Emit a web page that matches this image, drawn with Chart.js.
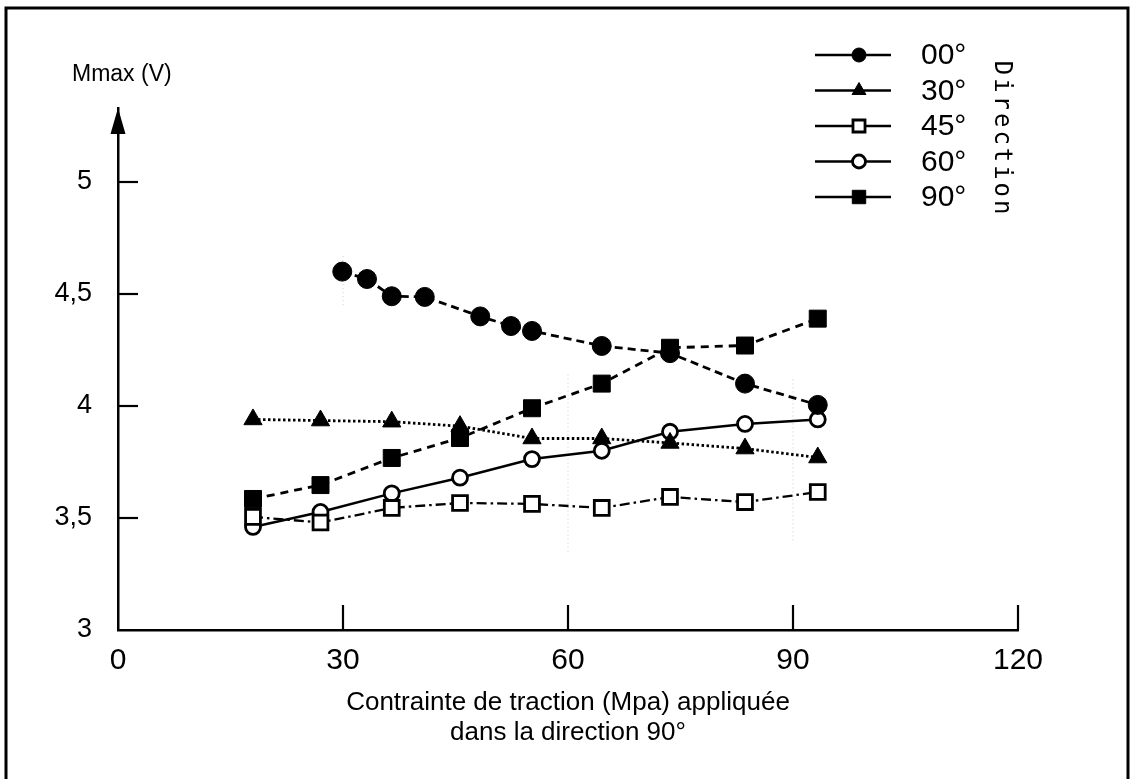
<!DOCTYPE html>
<html>
<head>
<meta charset="utf-8">
<script src="https://cdn.jsdelivr.net/npm/chart.js@4"></script>
<style>
  html, body { margin: 0; padding: 0; background: #fff; }
  #wrap { width: 1133px; height: 779px; }
</style>
</head>
<body>
<div id="wrap"><canvas id="myChart" width="1133" height="779"></canvas></div>
<script>
// values
const seriesLabels = ['00°', '30°', '45°', '60°', '90°'];
const xStress = [18, 27, 36.5, 45.6, 55.2, 64.5, 73.6, 83.6, 93.3];
const xStress00 = [29.9, 33.2, 36.5, 40.9, 48.3, 52.4, 55.2, 64.5, 73.6, 83.6, 93.3];
const m00 = [4.60, 4.567, 4.49, 4.487, 4.40, 4.357, 4.335, 4.268, 4.236, 4.10, 4.005];
const m30 = [3.94, 3.935, 3.93, 3.91, 3.855, 3.855, 3.835, 3.81, 3.77];
const m45 = [3.505, 3.48, 3.545, 3.567, 3.563, 3.545, 3.594, 3.571, 3.616];
const m60 = [3.46, 3.527, 3.61, 3.68, 3.763, 3.80, 3.885, 3.92, 3.94];
const m90 = [3.585, 3.647, 3.768, 3.857, 3.99, 4.10, 4.26, 4.27, 4.39];
const xTicks = [0, 30, 60, 90, 120];
const yTicks = [3, 3.5, 4, 4.5, 5];
const yTickLabels = ['3', '3,5', '4', '4,5', '5'];

const FONT = '"Liberation Sans", Arial, Helvetica, sans-serif';

const pts = (xs, ys) => ys.map((y, i) => ({x: xs[i], y: y}));

const data = {
  datasets: [
    {
      label: seriesLabels[0],
      data: pts(xStress00, m00),
      borderDash: [8, 5],
      borderWidth: 2.8,
      pointStyle: 'circle',
      pointRadius: 9.5,
      pointBackgroundColor: '#000',
      legendRadius: 7
    },
    {
      label: seriesLabels[1],
      data: pts(xStress, m30),
      borderDash: [2.5, 2.5],
      borderWidth: 2.8,
      pointStyle: 'triangle',
      pointRadius: 10.5,
      pointBackgroundColor: '#000',
      legendRadius: 8
    },
    {
      label: seriesLabels[2],
      data: pts(xStress, m45),
      borderDash: [10, 4, 2.5, 4],
      borderWidth: 2.3,
      pointStyle: 'rect',
      pointRadius: 10.5,
      pointBorderWidth: 2.8,
      pointBackgroundColor: '#fff',
      legendRadius: 8.5
    },
    {
      label: seriesLabels[3],
      data: pts(xStress, m60),
      borderDash: [],
      borderWidth: 2.5,
      pointStyle: 'circle',
      pointRadius: 7.5,
      pointBorderWidth: 2.8,
      pointBackgroundColor: '#fff',
      legendRadius: 6.5
    },
    {
      label: seriesLabels[4],
      data: pts(xStress, m90),
      borderDash: [8, 6],
      borderWidth: 2.8,
      pointStyle: 'rect',
      pointRadius: 12,
      pointBackgroundColor: '#000',
      legendRadius: 9.5
    }
  ]
};
data.datasets.forEach(d => {
  d.borderColor = '#000';
  d.pointBorderColor = '#000';
  d.showLine = true;
  d.fill = false;
  d.tension = 0;
  if (d.pointBorderWidth === undefined) d.pointBorderWidth = 1;
});

// frame, arrow, inward ticks, legend and labels
const decor = {
  id: 'decor',
  beforeDatasetsDraw: (chart) => {
    const ctx = chart.ctx;
    const xs = chart.scales.x, ys = chart.scales.y;
    const x0 = xs.getPixelForValue(0), y0 = ys.getPixelForValue(3);
    ctx.save();
    // faint scan dots
    ctx.strokeStyle = '#c8c8c8';
    ctx.lineWidth = 1;
    ctx.setLineDash([1, 3]);
    [[30, 4.45, 4.68], [60, 3.35, 4.15], [90, 3.4, 4.12]].forEach(g => {
      const gx = xs.getPixelForValue(g[0]);
      ctx.beginPath();
      ctx.moveTo(gx, ys.getPixelForValue(g[1]));
      ctx.lineTo(gx, ys.getPixelForValue(g[2]));
      ctx.stroke();
    });
    ctx.setLineDash([]);
    // ticks
    ctx.strokeStyle = '#000';
    ctx.lineWidth = 2.2;
    xTicks.slice(1).forEach(v => {
      const px = xs.getPixelForValue(v);
      ctx.beginPath();
      ctx.moveTo(px, y0);
      ctx.lineTo(px, y0 - 25);
      ctx.stroke();
    });
    yTicks.slice(1).forEach(v => {
      const py = ys.getPixelForValue(v);
      ctx.beginPath();
      ctx.moveTo(x0, py);
      ctx.lineTo(x0 + 20, py);
      ctx.stroke();
    });
    // arrow head
    const top = chart.chartArea.top;
    ctx.fillStyle = '#000';
    ctx.beginPath();
    ctx.moveTo(x0, top);
    ctx.lineTo(x0 - 7.5, top + 26);
    ctx.lineTo(x0 + 7.5, top + 26);
    ctx.closePath();
    ctx.fill();
    ctx.restore();
  },
  afterDraw: (chart) => {
    const ctx = chart.ctx;
    ctx.save();
    // frame
    ctx.strokeStyle = '#000';
    ctx.lineWidth = 3;
    ctx.beginPath();
    ctx.moveTo(6, 779);
    ctx.lineTo(6, 8);
    ctx.lineTo(1128, 8);
    ctx.lineTo(1128, 779);
    ctx.stroke();
    // y title
    ctx.fillStyle = '#000';
    ctx.font = '23px ' + FONT;
    ctx.textAlign = 'left';
    ctx.textBaseline = 'middle';
    ctx.fillText('Mmax (V)', 72, 75);
    // legend
    const rowY = 55, rowStep = 35.5;
    chart.data.datasets.forEach((d, i) => {
      const y = rowY + i * rowStep;
      ctx.strokeStyle = '#000';
      ctx.lineWidth = 2.5;
      ctx.beginPath();
      ctx.moveTo(815, y);
      ctx.lineTo(891, y);
      ctx.stroke();
      ctx.fillStyle = d.pointBackgroundColor;
      ctx.lineWidth = d.pointBorderWidth;
      Chart.helpers.drawPoint(ctx, {pointStyle: d.pointStyle, radius: d.legendRadius, rotation: 0, borderWidth: d.pointBorderWidth}, 859, y);
      ctx.fillStyle = '#000';
      ctx.font = '30px ' + FONT;
      ctx.textAlign = 'left';
      ctx.textBaseline = 'middle';
      ctx.fillText(d.label, 921, y + 1);
    });
    // vertical "Direction"
    const word = 'Direction';
    ctx.font = '24px "DejaVu Sans Mono", monospace';
    ctx.textAlign = 'center';
    ctx.textBaseline = 'middle';
    for (let i = 0; i < word.length; i++) {
      ctx.save();
      ctx.translate(1001, 68 + i * 17.4);
      ctx.rotate(Math.PI / 2);
      ctx.fillText(word[i], 0, 0);
      ctx.restore();
    }
    ctx.restore();
  }
};

const config = {
  type: 'scatter',
  data: data,
  options: {
    responsive: false,
    animation: false,
    layout: { padding: { top: 108, right: 115, left: 0, bottom: 0 } },
    plugins: {
      legend: { display: false },
      tooltip: { enabled: false }
    },
    scales: {
      x: {
        type: 'linear',
        min: 0,
        max: 120,
        afterBuildTicks: (scale) => { scale.ticks = xTicks.map(v => ({value: v})); },
        afterFit: (scale) => { scale.height = 149; },
        grid: { display: false, drawTicks: false },
        border: { display: true, color: '#000', width: 2.5 },
        ticks: {
          padding: 13,
          color: '#000',
          font: { family: FONT, size: 30 },
          maxRotation: 0
        },
        title: {
          display: true,
          text: ['Contrainte de traction (Mpa) appliquée', 'dans la direction 90°'],
          color: '#000',
          font: { family: FONT, size: 26, lineHeight: 30 / 26 },
          padding: { top: 0, bottom: 31 }
        }
      },
      y: {
        type: 'linear',
        min: 3,
        max: 3 + 522 / 224,
        afterBuildTicks: (scale) => { scale.ticks = yTicks.map(v => ({value: v})); },
        afterFit: (scale) => { scale.width = 118; },
        grid: { display: false, drawTicks: false },
        border: { display: true, color: '#000', width: 2.5 },
        ticks: {
          padding: 26,
          color: '#000',
          font: { family: FONT, size: 27 },
          callback: (v) => yTickLabels[yTicks.indexOf(v)]
        }
      }
    }
  },
  plugins: [decor]
};

const myChart = new Chart(document.getElementById('myChart').getContext('2d'), config);
</script>
</body>
</html>
